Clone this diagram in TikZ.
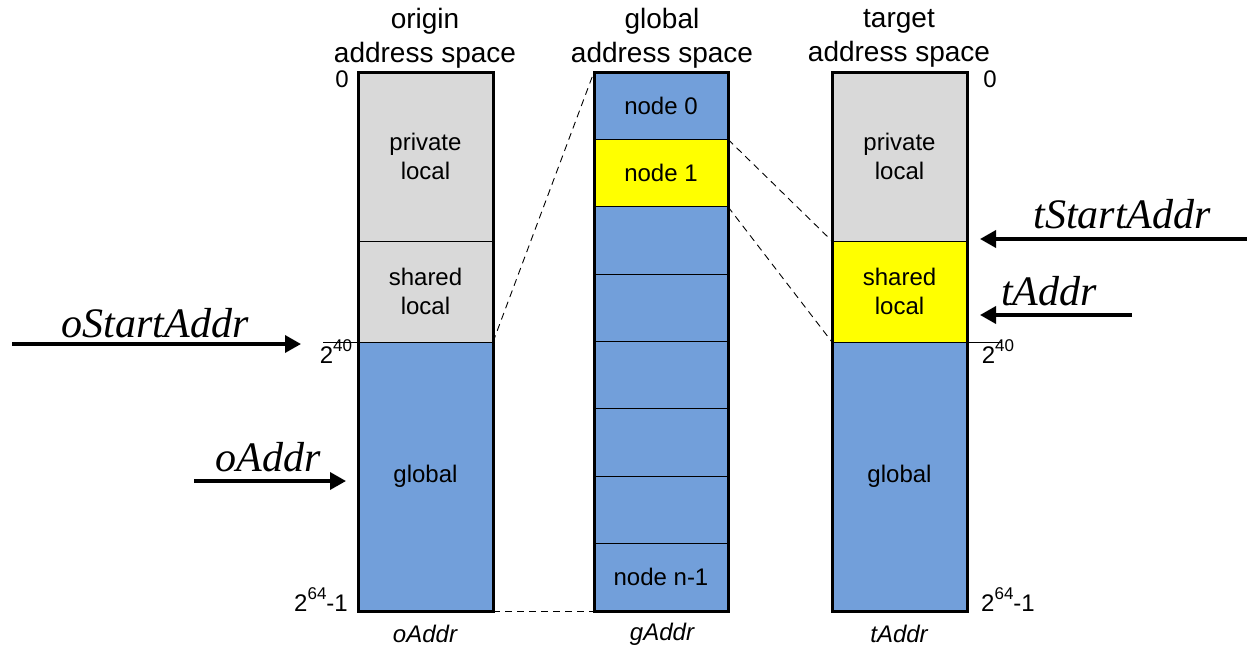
\documentclass[tikz,border=0pt]{standalone}
\usepackage{fontspec}
\setmainfont{Liberation Sans}
\newfontfamily\tms{Liberation Serif}
\usetikzlibrary{arrows.meta}
\definecolor{memblue}{RGB}{114,159,218}
\definecolor{memgray}{RGB}{217,217,217}
\definecolor{memyellow}{RGB}{255,255,0}
\newcommand{\pw}[1]{\raisebox{0.5em}{\fontsize{17}{17}\selectfont #1}}
\tikzset{
  seg/.style={draw, line width=1pt, minimum width=135pt, inner sep=0pt, outer sep=0pt,
    anchor=north west, align=center, font=\fontsize{24}{29}\selectfont},
  gseg/.style={seg, fill=memblue, minimum width=134pt, minimum height=67.375pt},
  outline/.style={draw, line width=3pt},
  title/.style={align=center, font=\fontsize{28}{34}\selectfont},
  bound/.style={font=\fontsize{24}{28}\selectfont},
  axis/.style={font=\fontsize{24}{28}\selectfont\itshape},
  pointer/.style={line width=3.5pt, -{Triangle[length=16pt,width=17pt]}},
  ptrlabel/.style={anchor=base, font=\fontsize{42}{48}\selectfont\tms\itshape},
  link/.style={line width=0.9pt, dash pattern=on 7pt off 5pt},
}
\begin{document}
\begin{tikzpicture}[x=1pt,y=-1pt]
\useasboundingbox (0,0) rectangle (1247,646);

% origin address space
\node[seg, fill=memgray, minimum height=169pt] (opriv) at (358,72) {private\\local};
\node[seg, fill=memgray, minimum height=101pt] (oshr) at (358,241) {shared\\local};
\node[seg, fill=memblue, minimum height=269pt] (oglob) at (358,342) {global};
\draw[outline] (opriv.north west) rectangle (oglob.south east);

% global address space
\node[gseg] (g0) at (594,72) {node 0};
\node[gseg, fill=memyellow, anchor=north] (g1) at (g0.south) {node 1};
\node[gseg, anchor=north] (g2) at (g1.south) {};
\node[gseg, anchor=north] (g3) at (g2.south) {};
\node[gseg, anchor=north] (g4) at (g3.south) {};
\node[gseg, anchor=north] (g5) at (g4.south) {};
\node[gseg, anchor=north] (g6) at (g5.south) {};
\node[gseg, anchor=north] (g7) at (g6.south) {node n-1};
\draw[outline] (g0.north west) rectangle (g7.south east);

% target address space
\node[seg, fill=memgray, minimum height=169pt] (tpriv) at (832,72) {private\\local};
\node[seg, fill=memyellow, minimum height=101pt] (tshr) at (832,241) {shared\\local};
\node[seg, fill=memblue, minimum height=269pt] (tglob) at (832,342) {global};
\draw[outline] (tpriv.north west) rectangle (tglob.south east);

% column titles
\node[title] (otitle) at (425,38) {origin\\address space};
\node[title] (gtitle) at (662,38) {global\\address space};
\node[title] (ttitle) at (899,38) {target\\address space};

% address axis names
\node[axis] (oax) at (425,634) {oAddr};
\node[axis] (gax) at (662,634) {gAddr};
\node[axis] (tax) at (899,634) {tAddr};

% boundary marks
\coordinate (otick) at (323,342);
\coordinate (ttick) at (1001,342);
\draw[line width=0.8pt] (oglob.north west) -- (otick);
\draw[line width=0.8pt] (tglob.north east) -- (ttick);
\node[bound] (o0) at (342,79) {0};
\node[bound] (o40) at (336,352) {2\pw{40}};
\node[bound] (o64) at (321,600) {2\pw{64}-1};
\node[bound] (t0) at (990,79) {0};
\node[bound] (t40) at (998,352) {2\pw{40}};
\node[bound] (t64) at (1008,600) {2\pw{64}-1};

% mapping between spaces
\draw[link] (oglob.north east) -- (g0.north west);
\draw[link] (oglob.south east) -- (g7.south west);
\draw[link] (g1.north east) -- (tshr.north west);
\draw[link] (g1.south east) -- (tglob.north west);

% address pointers
\coordinate (osaFrom) at (12,344);
\coordinate (osaTo) at (301,344);
\draw[pointer] (osaFrom) -- (osaTo);
\node[ptrlabel] (osaLbl) at (155,337) {oStartAddr};

\coordinate (oaFrom) at (194,481);
\coordinate (oaTo) at (346,481);
\draw[pointer] (oaFrom) -- (oaTo);
\node[ptrlabel] (oaLbl) at (268,471) {oAddr};

\coordinate (tsaFrom) at (1247,239);
\coordinate (tsaTo) at (980,239);
\draw[pointer] (tsaFrom) -- (tsaTo);
\node[ptrlabel] (tsaLbl) at (1122,228) {tStartAddr};

\coordinate (taFrom) at (1132,315);
\coordinate (taTo) at (980,315);
\draw[pointer] (taFrom) -- (taTo);
\node[ptrlabel] (taLbl) at (1049,305) {tAddr};
\end{tikzpicture}
\end{document}
